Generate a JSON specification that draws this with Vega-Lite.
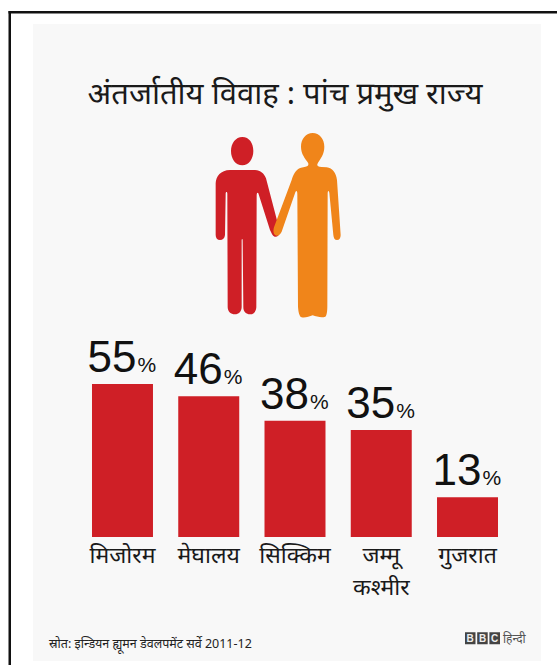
{
  "$schema": "https://vega.github.io/schema/vega-lite/v6.json",
  "width": 557,
  "height": 665,
  "autosize": {"type": "fit", "contains": "padding"},
  "padding": 0,
  "background": "#ffffff",
  "view": {"stroke": null},
  "config": {"font": "Noto Sans", "text": {"font": "Noto Sans"}},
  "datasets": {
    "states": [
      {"state": "मिजोरम", "share": 55},
      {"state": "मेघालय", "share": 46},
      {"state": "सिक्किम", "share": 38},
      {"state": "जम्मू कश्मीर", "share": 35},
      {"state": "गुजरात", "share": 13}
    ],
    "single": [{"id": 1}]
  },
  "encoding": {},
  "layer": [
    {
      "data": {"name": "single"},
      "mark": {"type": "rect", "x": 33, "x2": 541, "y": 24, "y2": 661, "fill": "#f8f8f8"}
    },
    {
      "data": {"name": "single"},
      "mark": {"type": "rect", "x": 8.5, "x2": 557, "y": 11, "y2": 13.5, "fill": "#111111"}
    },
    {
      "data": {"name": "single"},
      "mark": {"type": "rect", "x": 8.5, "x2": 11, "y": 11, "y2": 665, "fill": "#111111"}
    },
    {
      "data": {"values": [{"heading": "अंतर्जातीय विवाह : पांच प्रमुख राज्य"}]},
      "mark": {"type": "text", "x": 285, "y": 104, "align": "center", "baseline": "alphabetic", "fontSize": 31, "fill": "#1a1a1a"},
      "encoding": {"text": {"field": "heading"}}
    },
    {
      "data": {"name": "single"},
      "mark": {
        "type": "point", "filled": true, "opacity": 1, "x": 190, "y": 120, "size": 0.4444, "fill": "#cf1f26", "stroke": null,
        "shape": "M157 51C178 51 190 70 190 93C190 117 176 136 157 136C137 136 123 117 123 93C123 70 137 51 157 51ZM120 150L195 150C212 151 222 160 228 175L268 328C272 345 262 352 254 350C247 348 245 340 240 330L205 220C202 216 200 220 200 228L199 562C198 576 190 583 180 583C169 583 160 576 160 562L158 362C158 355 155 355 155 362L155 562C154 576 146 583 135 583C122 583 114 576 113 562L112 222C112 214 107 214 107 222L105 345C104 355 98 360 90 360C82 360 77 354 77 345L77 190C78 168 92 151 120 150Z"
      }
    },
    {
      "data": {"name": "single"},
      "mark": {
        "type": "point", "filled": true, "opacity": 1, "x": 190, "y": 120, "size": 0.4444, "fill": "#f0851a", "stroke": null,
        "shape": "M368 39C388 39 403 57 403 80C403 102 392 116 384 128C380 135 380 140 395 141L410 142C428 145 438 158 441 180L452 345C452 354 448 360 441 360C434 360 431 354 430 345L418 218C416 210 413 212 413 222L412 560C412 575 410 588 406 590C395 594 380 590 368 586C358 590 345 594 335 592C328 590 325 575 324 560L322 222C322 210 318 210 315 220L275 335C270 345 262 350 256 346C250 342 249 332 252 322L305 180C312 158 320 145 340 142C352 140 358 137 354 128C345 115 333 102 333 80C333 57 348 39 368 39Z"
      }
    },
    {
      "data": {"name": "states"},
      "mark": {"type": "bar", "fill": "#cf1f26"},
      "encoding": {
        "x": {"field": "state", "type": "nominal", "sort": null, "axis": null,
          "scale": {"range": [79.4, 510.6], "paddingInner": 0.293, "paddingOuter": 0.146}},
        "y": {"field": "share", "type": "quantitative", "axis": null,
          "scale": {"domain": [0, 50], "range": [537, 384], "clamp": true}}
      }
    },
    {
      "data": {"name": "states"},
      "mark": {"type": "text", "align": "right", "baseline": "alphabetic", "dx": 14, "dy": -12, "fontSize": 44, "font": "Liberation Sans", "fill": "#111111"},
      "encoding": {
        "x": {"field": "state", "type": "nominal", "sort": null},
        "y": {"field": "share", "type": "quantitative"},
        "text": {"field": "share", "type": "quantitative"}
      }
    },
    {
      "data": {"name": "states"},
      "transform": [{"calculate": "'%'", "as": "unit"}],
      "mark": {"type": "text", "align": "left", "baseline": "alphabetic", "dx": 15, "dy": -12, "fontSize": 21, "font": "Liberation Sans", "fill": "#111111"},
      "encoding": {
        "x": {"field": "state", "type": "nominal", "sort": null},
        "y": {"field": "share", "type": "quantitative"},
        "text": {"field": "unit"}
      }
    },
    {
      "data": {"name": "states"},
      "transform": [{"calculate": "split(datum.state, ' ')", "as": "lines"}],
      "mark": {"type": "text", "align": "center", "baseline": "top", "fontSize": 23, "lineHeight": 32, "y": 545, "fill": "#1a1a1a"},
      "encoding": {
        "x": {"field": "state", "type": "nominal", "sort": null},
        "text": {"field": "lines"}
      }
    },
    {
      "data": {"values": [{"source": "स्रोत: इन्डियन ह्यूमन डेवलपमेंट सर्वे 2011-12"}]},
      "mark": {"type": "text", "x": 49, "y": 648, "align": "left", "baseline": "alphabetic", "fontSize": 12.5, "fill": "#222222"},
      "encoding": {"text": {"field": "source"}}
    },
    {
      "data": {"name": "single"},
      "mark": {
        "type": "point", "filled": true, "opacity": 1, "x": 465, "y": 638.3, "size": 4, "fill": "#444444", "stroke": null,
        "shape": "M0 -6H10.5V6H0ZM12.2 -6H22.7V6H12.2ZM24.4 -6H35V6H24.4Z"
      }
    },
    {
      "data": {"values": [{"brand": "B"}]},
      "mark": {"type": "text", "x": 470.2, "y": 638.5, "align": "center", "baseline": "middle", "fontSize": 10, "fontWeight": "bold", "font": "Liberation Sans", "fill": "#eeeeee"},
      "encoding": {"text": {"field": "brand"}}
    },
    {
      "data": {"values": [{"brand": "B"}]},
      "mark": {"type": "text", "x": 482.5, "y": 638.5, "align": "center", "baseline": "middle", "fontSize": 10, "fontWeight": "bold", "font": "Liberation Sans", "fill": "#eeeeee"},
      "encoding": {"text": {"field": "brand"}}
    },
    {
      "data": {"values": [{"brand": "C"}]},
      "mark": {"type": "text", "x": 494.7, "y": 638.5, "align": "center", "baseline": "middle", "fontSize": 10, "fontWeight": "bold", "font": "Liberation Sans", "fill": "#eeeeee"},
      "encoding": {"text": {"field": "brand"}}
    },
    {
      "data": {"values": [{"brand": "हिन्दी"}]},
      "mark": {"type": "text", "x": 503, "y": 643, "align": "left", "baseline": "alphabetic", "fontSize": 12, "fill": "#555555"},
      "encoding": {"text": {"field": "brand"}}
    }
  ]
}
